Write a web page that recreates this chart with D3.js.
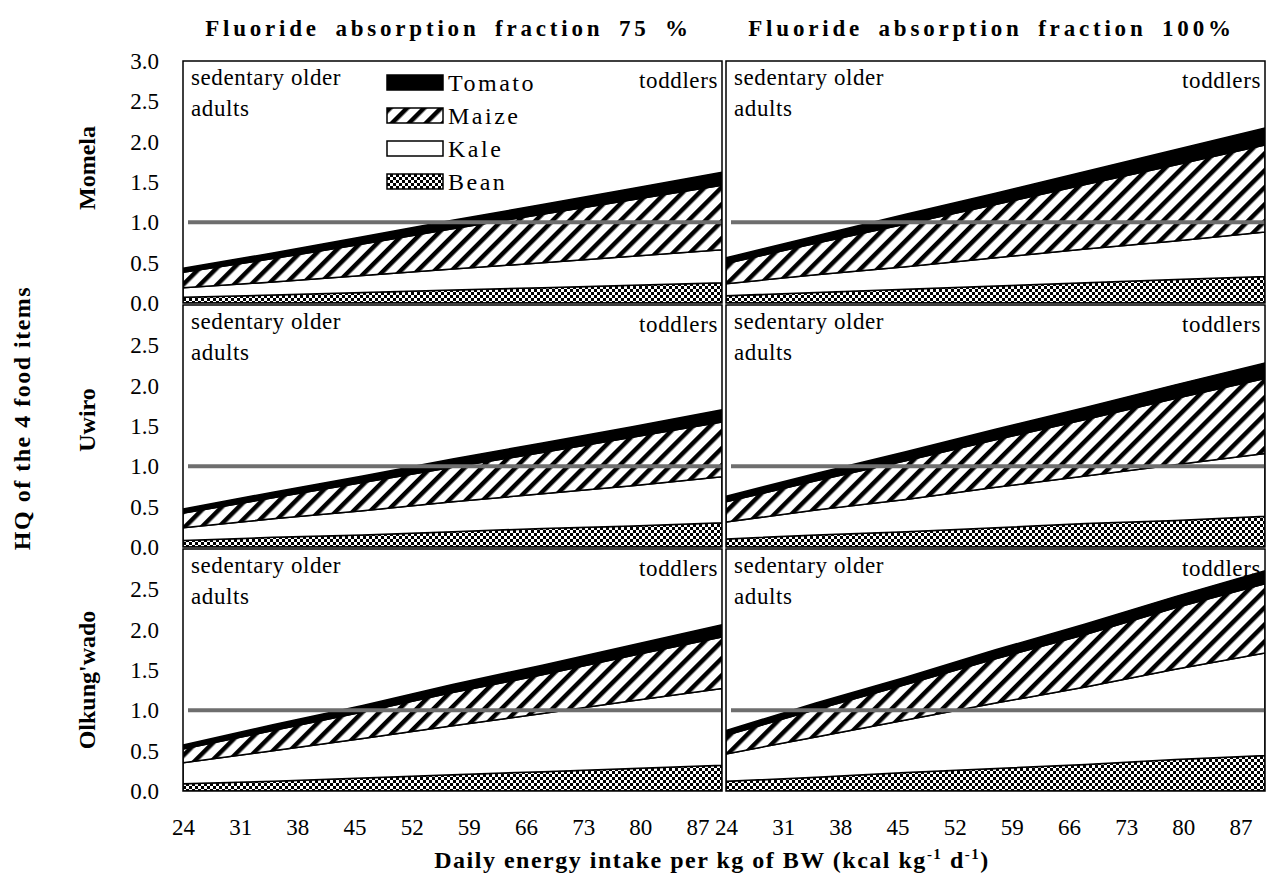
<!DOCTYPE html>
<html>
<head>
<meta charset="utf-8">
<script src="https://cdn.jsdelivr.net/npm/d3@7"></script>
<style>
  body { margin: 0; background: #fff; }
  svg text { font-family: "Liberation Serif", "Times New Roman", Times, serif; fill: #000; }
</style>
</head>
<body>
<svg width="1270" height="893"></svg>
<script>
// x positions (daily energy intake, kcal/kg/d) the values were read at
var xVals = [24, 35, 46, 57, 68, 79, 90];
var xTicks = [24, 31, 38, 45, 52, 59, 66, 73, 80, 87];
var yTicks = [0, 0.5, 1, 1.5, 2, 2.5, 3];
var foods = ["Bean", "Kale", "Maize", "Tomato"];      // stacking order, bottom to top
var legendOrder = ["Tomato", "Maize", "Kale", "Bean"];
var sites = ["Momela", "Uwiro", "Olkung'wado"];
var fractions = ["Fluoride absorption fraction 75 %", "Fluoride absorption fraction 100%"];

// HQ per food item
var momela75_bean   = [0.07, 0.10, 0.13, 0.16, 0.19, 0.22, 0.25];
var momela75_kale   = [0.12, 0.16, 0.21, 0.26, 0.31, 0.36, 0.41];
var momela75_maize  = [0.19, 0.29, 0.39, 0.50, 0.60, 0.70, 0.80];
var momela75_tomato = [0.05, 0.07, 0.09, 0.105, 0.12, 0.14, 0.16];

var momela100_bean   = [0.09, 0.13, 0.17, 0.21, 0.25, 0.29, 0.33];
var momela100_kale   = [0.15, 0.22, 0.28, 0.35, 0.42, 0.48, 0.55];
var momela100_maize  = [0.25, 0.39, 0.53, 0.66, 0.80, 0.94, 1.08];
var momela100_tomato = [0.07, 0.09, 0.12, 0.14, 0.16, 0.19, 0.21];

var uwiro75_bean   = [0.08, 0.12, 0.15, 0.19, 0.23, 0.26, 0.30];
var uwiro75_kale   = [0.16, 0.23, 0.30, 0.37, 0.43, 0.50, 0.57];
var uwiro75_maize  = [0.18, 0.26, 0.35, 0.43, 0.51, 0.60, 0.68];
var uwiro75_tomato = [0.05, 0.07, 0.08, 0.10, 0.12, 0.13, 0.15];

var uwiro100_bean   = [0.10, 0.15, 0.19, 0.24, 0.29, 0.33, 0.38];
var uwiro100_kale   = [0.21, 0.31, 0.40, 0.50, 0.59, 0.69, 0.78];
var uwiro100_maize  = [0.25, 0.36, 0.48, 0.59, 0.70, 0.82, 0.93];
var uwiro100_tomato = [0.07, 0.09, 0.11, 0.13, 0.15, 0.17, 0.19];

var olk75_bean   = [0.09, 0.12, 0.16, 0.20, 0.24, 0.28, 0.32];
var olk75_kale   = [0.26, 0.38, 0.49, 0.61, 0.72, 0.84, 0.95];
var olk75_maize  = [0.17, 0.25, 0.33, 0.41, 0.48, 0.56, 0.64];
var olk75_tomato = [0.05, 0.07, 0.08, 0.10, 0.12, 0.13, 0.15];

var olk100_bean   = [0.12, 0.17, 0.23, 0.28, 0.33, 0.39, 0.44];
var olk100_kale   = [0.34, 0.50, 0.65, 0.81, 0.96, 1.12, 1.27];
var olk100_maize  = [0.23, 0.34, 0.44, 0.55, 0.65, 0.76, 0.86];
var olk100_tomato = [0.06, 0.08, 0.09, 0.11, 0.13, 0.14, 0.16];

var panels = [
  {row: 0, col: 0, s: [momela75_bean, momela75_kale, momela75_maize, momela75_tomato]},
  {row: 0, col: 1, s: [momela100_bean, momela100_kale, momela100_maize, momela100_tomato]},
  {row: 1, col: 0, s: [uwiro75_bean, uwiro75_kale, uwiro75_maize, uwiro75_tomato]},
  {row: 1, col: 1, s: [uwiro100_bean, uwiro100_kale, uwiro100_maize, uwiro100_tomato]},
  {row: 2, col: 0, s: [olk75_bean, olk75_kale, olk75_maize, olk75_tomato]},
  {row: 2, col: 1, s: [olk100_bean, olk100_kale, olk100_maize, olk100_tomato]}
];

var svg = d3.select("svg");
var serif = "'Liberation Serif', 'Times New Roman', Times, serif";
var colX = [183, 726], panelW = 539;
var rowY = [61, 305, 549], panelH = 242;

// patterns
var defs = svg.append("defs");
var hatch = defs.append("pattern").attr("id", "hatch")
    .attr("patternUnits", "userSpaceOnUse").attr("width", 12).attr("height", 12)
    .attr("patternTransform", "rotate(45)");
hatch.append("rect").attr("width", 12).attr("height", 12).attr("fill", "#fff");
hatch.append("rect").attr("width", 4.5).attr("height", 12).attr("fill", "#000");

var checker = defs.append("pattern").attr("id", "checker")
    .attr("patternUnits", "userSpaceOnUse").attr("width", 6).attr("height", 6);
checker.append("rect").attr("width", 6).attr("height", 6).attr("fill", "#000");
checker.append("rect").attr("width", 3).attr("height", 3).attr("fill", "#fff");
checker.append("rect").attr("x", 3).attr("y", 3).attr("width", 3).attr("height", 3).attr("fill", "#fff");

var fills = {Bean: "url(#checker)", Kale: "#fff", Maize: "url(#hatch)", Tomato: "#000"};

var x = d3.scaleLinear().domain([24, 90]).range([0, panelW]);
var y = d3.scaleLinear().domain([0, 3]).range([panelH, 0]);

var stack = d3.stack().keys(foods);
var area = d3.area()
    .x(function(d) { return x(d.data.x); })
    .y0(function(d) { return y(d[0]); })
    .y1(function(d) { return y(d[1]); });

function label(sel, size) {
  return sel.style("font-family", serif).style("font-size", size + "px");
}

panels.forEach(function(p, i) {
  var g = svg.append("g")
      .attr("transform", "translate(" + colX[p.col] + "," + rowY[p.row] + ")");

  defs.append("clipPath").attr("id", "clip" + i)
    .append("rect").attr("width", panelW).attr("height", panelH);

  var rows = xVals.map(function(xv, j) {
    var r = {x: xv};
    foods.forEach(function(f, k) { r[f] = p.s[k][j]; });
    return r;
  });

  var plot = g.append("g").attr("clip-path", "url(#clip" + i + ")");
  plot.selectAll("path.area")
    .data(stack(rows))
    .enter().append("path")
      .attr("class", "area")
      .attr("fill", function(d) { return fills[d.key]; })
      .attr("stroke", "#000")
      .attr("stroke-width", 1.5)
      .attr("d", area);

  // HQ = 1 reference line
  plot.append("line")
      .attr("x1", 5).attr("x2", panelW)
      .attr("y1", y(1)).attr("y2", y(1))
      .attr("stroke", "#6e6e6e").attr("stroke-width", 4);

  g.append("rect")
      .attr("width", panelW).attr("height", panelH)
      .attr("fill", "none").attr("stroke", "#000").attr("stroke-width", 1.5);

  label(g.append("text").attr("x", 8).attr("y", 24), 23)
      .style("letter-spacing", "0.6px").text("sedentary older");
  label(g.append("text").attr("x", 8).attr("y", 55), 23)
      .style("letter-spacing", "0.6px").text("adults");
  label(g.append("text").attr("x", panelW - 4).attr("y", 27).attr("text-anchor", "end"), 23)
      .style("letter-spacing", "0.6px").text("toddlers");

  // y axis on the left column
  if (p.col === 0) {
    var yAxis = g.append("g")
        .call(d3.axisLeft(y)
          .tickValues(p.row === 0 ? yTicks : yTicks.slice(0, 6))
          .tickSize(0).tickPadding(24)
          .tickFormat(d3.format(".1f")));
    yAxis.select(".domain").remove();
    label(yAxis.selectAll("text"), 23);
  }

  // x axis on the bottom row
  if (p.row === 2) {
    var xAxis = g.append("g")
        .attr("transform", "translate(0," + panelH + ")")
        .call(d3.axisBottom(x).tickValues(xTicks).tickSize(0).tickPadding(28)
          .tickFormat(d3.format("d")));
    xAxis.select(".domain").remove();
    label(xAxis.selectAll("text"), 23);
  }
});

// legend in the first panel
var legend = svg.append("g").attr("transform", "translate(387,75)");
legendOrder.forEach(function(f, i) {
  var lg = legend.append("g").attr("transform", "translate(0," + (i * 33) + ")");
  lg.append("rect").attr("width", 56).attr("height", 15)
    .attr("fill", fills[f]).attr("stroke", "#000").attr("stroke-width", 1.5);
  label(lg.append("text").attr("x", 61).attr("y", 16), 24)
    .style("letter-spacing", "2.5px").text(f);
});

// column titles
fractions.forEach(function(t, i) {
  label(svg.append("text")
      .attr("x", colX[i] + panelW / 2 - 4).attr("y", 36)
      .attr("text-anchor", "middle"), 23)
      .style("font-weight", "bold")
      .style("letter-spacing", "3.8px").style("word-spacing", "6px")
      .text(t);
});

// site labels
var siteY = [168, 420, 680];
sites.forEach(function(s, i) {
  label(svg.append("text")
      .attr("transform", "translate(95," + siteY[i] + ") rotate(-90)")
      .attr("text-anchor", "middle"), 24)
      .style("font-weight", "bold")
      .text(s);
});

label(svg.append("text")
    .attr("transform", "translate(30,418) rotate(-90)")
    .attr("text-anchor", "middle"), 24)
    .style("font-weight", "bold").style("letter-spacing", "1.5px")
    .text("HQ of the 4 food items");

var xt = label(svg.append("text")
    .attr("x", 712).attr("y", 868)
    .attr("text-anchor", "middle"), 24)
    .style("font-weight", "bold").style("letter-spacing", "1.5px");
xt.append("tspan").text("Daily energy intake per kg of BW (kcal kg");
xt.append("tspan").attr("dy", -9).style("font-size", "15px").text("-1");
xt.append("tspan").attr("dy", 9).text(" d");
xt.append("tspan").attr("dy", -9).style("font-size", "15px").text("-1");
xt.append("tspan").attr("dy", 9).text(")");
</script>
</body>
</html>
